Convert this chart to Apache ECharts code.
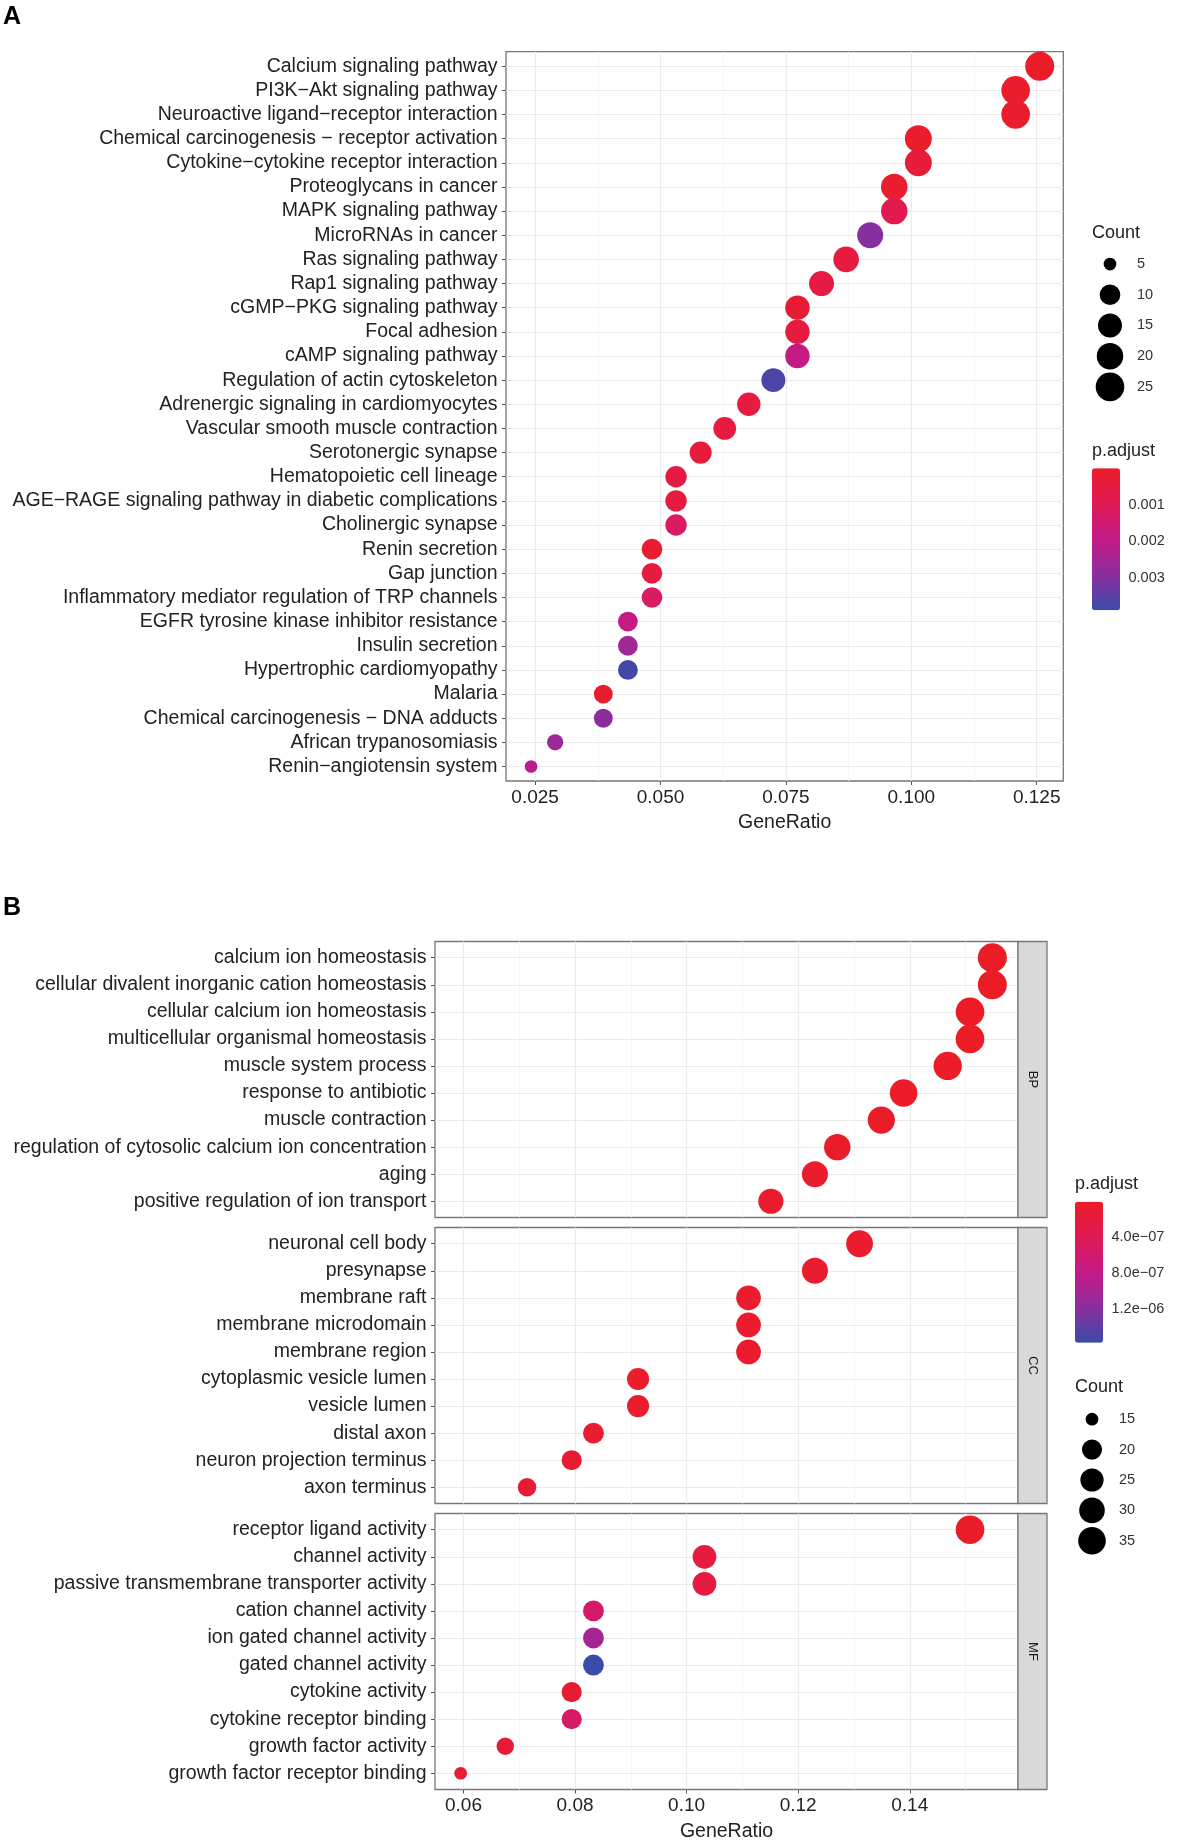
<!DOCTYPE html>
<html><head><meta charset="utf-8">
<script src="https://cdn.jsdelivr.net/npm/echarts@6/dist/echarts.min.js"></script>
<style>html,body{margin:0;padding:0;background:#fff}#c{width:1177px;height:1845px}</style>
</head><body><div id="c"></div>
<script>
// ---------- Panel A (KEGG) ----------
const keggTerms = ['Calcium signaling pathway','PI3K\u2212Akt signaling pathway','Neuroactive ligand\u2212receptor interaction','Chemical carcinogenesis \u2212 receptor activation','Cytokine\u2212cytokine receptor interaction','Proteoglycans in cancer','MAPK signaling pathway','MicroRNAs in cancer','Ras signaling pathway','Rap1 signaling pathway','cGMP\u2212PKG signaling pathway','Focal adhesion','cAMP signaling pathway','Regulation of actin cytoskeleton','Adrenergic signaling in cardiomyocytes','Vascular smooth muscle contraction','Serotonergic synapse','Hematopoietic cell lineage','AGE\u2212RAGE signaling pathway in diabetic complications','Cholinergic synapse','Renin secretion','Gap junction','Inflammatory mediator regulation of TRP channels','EGFR tyrosine kinase inhibitor resistance','Insulin secretion','Hypertrophic cardiomyopathy','Malaria','Chemical carcinogenesis \u2212 DNA adducts','African trypanosomiasis','Renin\u2212angiotensin system'];
const keggRatio = [0.1256,0.1208,0.1208,0.1014,0.1014,0.0966,0.0966,0.0918,0.0870,0.0821,0.0773,0.0773,0.0773,0.0725,0.0676,0.0628,0.0580,0.0531,0.0531,0.0531,0.0483,0.0483,0.0483,0.0435,0.0435,0.0435,0.0386,0.0386,0.0290,0.0242];
const keggCount = [26,25,25,21,21,20,20,19,18,17,16,16,16,15,14,13,12,11,11,11,10,10,10,9,9,9,8,8,6,5];
const keggPadj = [0.00005,0.0001,0.0001,0.0001,0.0004,0.0002,0.0008,0.0030,0.0005,0.0006,0.0003,0.0005,0.0019,0.0037,0.0005,0.0005,0.0004,0.0006,0.0005,0.0012,0.0002,0.0005,0.0012,0.0019,0.0026,0.0038,0.0002,0.0029,0.0027,0.0022];
const keggXTicks = [0.025,0.050,0.075,0.100,0.125];
const keggXMinor = [0.0375,0.0625,0.0875,0.1125];
const keggCountBreaks = [5,10,15,20,25];
const keggPadjTicks = [0.001,0.002,0.003];

// ---------- Panel B (GO) ----------
const ontologies = ['BP','CC','MF'];
const goBPTerms = ['calcium ion homeostasis','cellular divalent inorganic cation homeostasis','cellular calcium ion homeostasis','multicellular organismal homeostasis','muscle system process','response to antibiotic','muscle contraction','regulation of cytosolic calcium ion concentration','aging','positive regulation of ion transport'];
const goBPRatio = [0.1548,0.1548,0.1508,0.1508,0.1468,0.1389,0.1349,0.1270,0.1230,0.1151];
const goBPCount = [39,39,38,38,37,35,34,32,31,29];
const goBPPadj = [1e-9,2e-9,3e-9,4e-9,6e-9,1e-8,2e-8,3e-8,4e-8,6e-8];
const goCCTerms = ['neuronal cell body','presynapse','membrane raft','membrane microdomain','membrane region','cytoplasmic vesicle lumen','vesicle lumen','distal axon','neuron projection terminus','axon terminus'];
const goCCRatio = [0.1310,0.1230,0.1111,0.1111,0.1111,0.0913,0.0913,0.0833,0.0794,0.0714];
const goCCCount = [33,31,28,28,28,23,23,21,20,18];
const goCCPadj = [5e-8,8e-8,6e-8,6e-8,6e-8,4e-8,4e-8,9e-8,1e-7,1.2e-7];
const goMFTerms = ['receptor ligand activity','channel activity','passive transmembrane transporter activity','cation channel activity','ion gated channel activity','gated channel activity','cytokine activity','cytokine receptor binding','growth factor activity','growth factor receptor binding'];
const goMFRatio = [0.1508,0.1032,0.1032,0.0833,0.0833,0.0833,0.0794,0.0794,0.0675,0.0595];
const goMFCount = [38,26,26,21,21,21,20,20,17,15];
const goMFPadj = [2e-8,2.2e-7,2.4e-7,5.5e-7,1.0e-6,1.58e-6,1.2e-7,5.2e-7,1.3e-7,1.4e-7];
const goXTicks = [0.06,0.08,0.10,0.12,0.14];
const goXMinor = [0.07,0.09,0.11,0.13,0.15];
const goCountBreaks = [15,20,25,30,35];
const goPadjTicks = [4e-7,8e-7,1.2e-6];

// ---------- styling ----------
const FONT = 'Liberation Sans, Arial, sans-serif';
const TXT = '#222';
const GRID = '#EBEBEB', MINOR = '#F4F4F4', BORDER = '#777';
const colorStops = ['#EC1C27','#E01A55','#C41A87','#8C2E9E','#3B4BA9'];
const D_MIN = 12.7, D_MAX = 29;

function sizeScale(cmin, cmax) {
  return c => D_MIN + Math.sqrt(Math.max(0, (c - cmin)) / (cmax - cmin)) * (D_MAX - D_MIN);
}
const sizeA = sizeScale(Math.min(...keggCount), Math.max(...keggCount));
const allGoCounts = goBPCount.concat(goCCCount, goMFCount);
const sizeB = sizeScale(Math.min(...allGoCounts), Math.max(...allGoCounts));

function expLabel(v) {
  const [m, e] = v.toExponential(1).split('e');
  const ei = parseInt(e, 10);
  return m + 'e' + (ei < 0 ? '\u2212' : '+') + String(Math.abs(ei)).padStart(2, '0');
}
const idx = n => Array.from({length: n}, (_, i) => i);

const grids = [], xAxes = [], yAxes = [], series = [], titles = [], graphics = [];

function dotPanel(g, terms, ratio, count, padj, xr, xTicks, xMinor, xFmt, showX, sizeFn) {
  const gi = grids.length;
  grids.push({left: g.left, top: g.top, width: g.width, height: g.height, show: true,
    borderColor: BORDER, borderWidth: 1.3, backgroundColor: '#fff', containLabel: false, outerBoundsMode: 'none'});
  const n = terms.length;
  const xi = xAxes.length;
  xAxes.push({type: 'value', gridIndex: gi, min: xr[0], max: xr[1], position: 'bottom',
    axisLine: {show: false, onZero: false},
    axisTick: {show: showX, customValues: xTicks, length: 4, lineStyle: {color: '#555'}},
    axisLabel: {show: showX, customValues: xTicks, formatter: xFmt, margin: 7, fontSize: 19, color: TXT, fontFamily: FONT},
    splitLine: {show: true, lineStyle: {color: GRID, width: 1.2}},
    name: showX ? 'GeneRatio' : '', nameLocation: 'middle', nameGap: 32,
    nameTextStyle: {fontSize: 19.5, color: TXT, fontFamily: FONT}});
  xAxes.push({type: 'value', gridIndex: gi, min: xr[0], max: xr[1], position: 'top',
    axisLine: {show: false, onZero: false}, axisLabel: {show: false},
    axisTick: {show: false, customValues: xMinor},
    splitLine: {show: true, lineStyle: {color: MINOR, width: 0.8}}});
  const yi = yAxes.length;
  yAxes.push({type: 'value', gridIndex: gi, min: -0.6, max: n - 1 + 0.6, inverse: true,
    axisLine: {show: false, onZero: false},
    axisTick: {show: true, customValues: idx(n), length: 4, lineStyle: {color: '#555'}},
    axisLabel: {customValues: idx(n), formatter: v => terms[Math.round(v)], margin: 8.5,
      fontSize: 19.5, color: TXT, fontFamily: FONT},
    splitLine: {show: true, lineStyle: {color: GRID, width: 1.2}}});
  series.push({type: 'scatter', xAxisIndex: xi, yAxisIndex: yi,
    data: terms.map((t, i) => [ratio[i], i, count[i], padj[i]]),
    symbolSize: v => sizeFn(v[2]),
    itemStyle: {opacity: 1}, z: 5});
  return series.length - 1;
}

function sizeLegend(g, breaks, sizeFn) {
  const gi = grids.length;
  grids.push({left: g.left, top: g.top, width: g.width, height: g.height, show: false, containLabel: false, outerBoundsMode: 'none'});
  const xi = xAxes.length;
  xAxes.push({type: 'value', gridIndex: gi, min: -1, max: 1, show: false});
  const yi = yAxes.length;
  yAxes.push({type: 'category', gridIndex: gi, data: breaks.map(String), inverse: true, position: 'right',
    axisLine: {show: false}, axisTick: {show: false}, splitLine: {show: false},
    axisLabel: {margin: 12, fontSize: 14.5, color: '#333', fontFamily: FONT}});
  series.push({type: 'scatter', xAxisIndex: xi, yAxisIndex: yi,
    data: breaks.map(b => [0, String(b), b]), symbolSize: v => sizeFn(v[2]),
    itemStyle: {color: '#000', opacity: 1}, silent: true});
}

function colorbarAxis(g, maxV, ticks, fmt) {
  const gi = grids.length;
  grids.push({left: g.left, top: g.top, width: g.width, height: g.height, show: false, containLabel: false, outerBoundsMode: 'none'});
  xAxes.push({type: 'value', gridIndex: gi, min: 0, max: 1, show: false});
  yAxes.push({type: 'value', gridIndex: gi, min: 0, max: maxV, inverse: true, position: 'right',
    axisLine: {show: false, onZero: false}, splitLine: {show: false},
    axisTick: {show: true, inside: true, length: 5, customValues: ticks, lineStyle: {color: '#fff', width: 1}},
    axisLabel: {customValues: ticks, formatter: fmt, margin: 8.5, fontSize: 14.5, color: '#333', fontFamily: FONT}});
}

// Panel A
const sA = dotPanel({left: 506, top: 51.7, width: 557.3, height: 729.3},
  keggTerms, keggRatio, keggCount, keggPadj, [0.0192, 0.1303], keggXTicks, keggXMinor,
  v => v.toFixed(3), true, sizeA);
sizeLegend({left: 1095, top: 248.7, width: 30, height: 153.5}, keggCountBreaks, sizeA);
colorbarAxis({left: 1092, top: 468.3, width: 28, height: 142}, 0.0039, keggPadjTicks, v => v.toFixed(3));

// Panel B
const goPanels = [
  [goBPTerms, goBPRatio, goBPCount, goBPPadj],
  [goCCTerms, goCCRatio, goCCCount, goCCPadj],
  [goMFTerms, goMFRatio, goMFCount, goMFPadj]];
const bTops = [941.5, 1227.5, 1513.5];
const bH = 276;
const sB = goPanels.map((p, k) => dotPanel({left: 435, top: bTops[k], width: 583, height: bH},
  p[0], p[1], p[2], p[3], [0.0549, 0.1594], goXTicks, goXMinor,
  v => v.toFixed(2), k === 2, sizeB));
sizeLegend({left: 1077, top: 1404, width: 30, height: 152}, goCountBreaks, sizeB);
colorbarAxis({left: 1075, top: 1201.7, width: 28, height: 141}, 1.58e-6, goPadjTicks, expLabel);

ontologies.forEach((o, k) => {
  graphics.push({type: 'rect', shape: {x: 1018, y: bTops[k], width: 29, height: bH},
    style: {fill: '#D9D9D9', stroke: BORDER, lineWidth: 1.3}, z: 10});
  graphics.push({type: 'text', x: 1032.5, y: bTops[k] + bH / 2, rotation: -Math.PI / 2,
    style: {text: o, fill: '#1a1a1a', font: '13px ' + FONT, align: 'center', verticalAlign: 'middle'}, z: 11});
});

const ttl = (text, left, top, size, bold) => ({text, left, top, padding: 0,
  textStyle: {fontSize: size, fontWeight: bold ? 'bold' : 'normal', color: bold ? '#000' : TXT, fontFamily: FONT}});
titles.push(ttl('A', 3, 5, 25, true));
titles.push(ttl('Count', 1092, 224, 18, false));
titles.push(ttl('p.adjust', 1092, 442, 18, false));
titles.push(ttl('B', 3, 896, 25, true));
titles.push(ttl('p.adjust', 1075, 1175, 18, false));
titles.push(ttl('Count', 1075, 1378, 18, false));

const vm = (seriesIndex, maxV, left, top, h) => ({type: 'continuous', seriesIndex, dimension: 3,
  min: 0, max: maxV, inverse: true, left, top, itemWidth: 28, itemHeight: h, padding: 0,
  calculable: false, hoverLink: false, text: null, showLabel: false,
  inRange: {color: colorStops}});

const chart = echarts.init(document.getElementById('c'), null, {renderer: 'canvas'});
chart.setOption({
  animation: false,
  backgroundColor: '#fff',
  textStyle: {fontFamily: FONT},
  title: titles,
  grid: grids,
  xAxis: xAxes,
  yAxis: yAxes,
  visualMap: [vm([sA], 0.0039, 1092, 468.3, 142), vm(sB, 1.58e-6, 1075, 1201.7, 141)],
  graphic: graphics,
  series
});
</script></body></html>
